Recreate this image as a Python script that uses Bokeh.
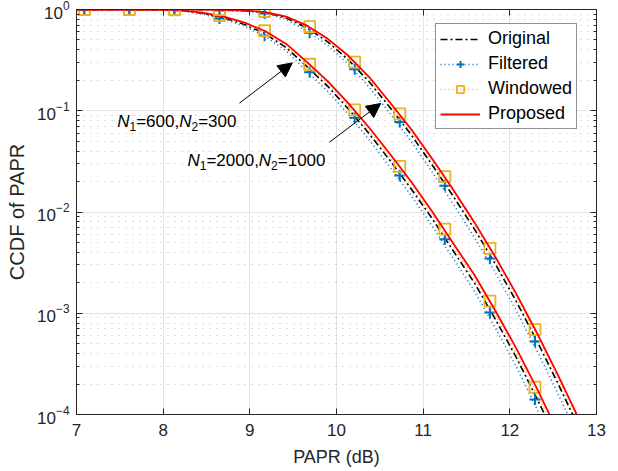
from bokeh.plotting import figure
from bokeh.models import (FixedTicker, LogTickFormatter, LinearAxis, LogAxis, Label,
                          Arrow, NormalHead, Legend, LegendItem, CustomJSTickFormatter)
from bokeh.embed import file_html
from bokeh.resources import INLINE

# ---------------- data ----------------
papr_db = [7.0, 7.25, 7.49, 7.73, 7.97, 8.21, 8.45, 8.70, 8.94, 9.18, 9.42, 9.66, 9.90,
           10.14, 10.38, 10.62, 10.86, 11.10, 11.34, 11.59, 11.83, 12.07, 12.31, 12.55, 12.79]

# N1=600, N2=300
g1_original = [1, 1, 1, 1, 0.993, 0.977, 0.918, 0.828, 0.711, 0.575, 0.420, 0.272, 0.174, 0.1035,
               0.0589, 0.0320, 0.0170, 0.00871, 0.00422, 0.00200, 8.81e-4, 3.72e-4, 1.45e-4, 5.5e-5]
g1_filtered = [1, 1, 1, 1, 0.991, 0.971, 0.902, 0.804, 0.684, 0.543, 0.389, 0.245, 0.155, 0.0912,
               0.0513, 0.0275, 0.0146, 0.00733, 0.00355, 0.00166, 7.24e-4, 3.02e-4, 1.15e-4, 4.4e-5]
g1_windowed = [1, 1, 1, 1, 0.995, 0.979, 0.925, 0.839, 0.724, 0.592, 0.437, 0.288, 0.184, 0.110,
               0.0631, 0.0347, 0.0184, 0.00944, 0.00457, 0.00219, 9.77e-4, 4.07e-4, 1.62e-4, 6.2e-5]
g1_proposed = [1, 1, 1, 1, 0.995, 0.982, 0.933, 0.851, 0.741, 0.610, 0.457, 0.302, 0.195, 0.1175,
               0.0676, 0.0372, 0.0200, 0.01023, 0.00501, 0.0024, 0.00107, 4.57e-4, 1.82e-4, 6.9e-5]

# N1=2000, N2=1000
g2_original = [1, 1, 1, 1, 1, 1, 0.998, 0.986, 0.973, 0.933, 0.826, 0.658, 0.479, 0.316, 0.192,
               0.107, 0.0582, 0.0295, 0.0146, 0.00681, 0.00309, 0.00133, 5.37e-4, 2.07e-4, 7.6e-5]
g2_filtered = [1, 1, 1, 1, 1, 1, 0.995, 0.984, 0.966, 0.920, 0.794, 0.617, 0.441, 0.286, 0.170,
               0.0933, 0.0501, 0.0251, 0.0123, 0.00562, 0.00255, 0.00108, 4.31e-4, 1.64e-4, 6.0e-5]
g2_windowed = [1, 1, 1, 1, 1, 1, 0.998, 0.991, 0.975, 0.940, 0.841, 0.678, 0.501, 0.335, 0.204,
               0.115, 0.0631, 0.0320, 0.0160, 0.00746, 0.00340, 0.00148, 6.03e-4, 2.32e-4, 8.6e-5]
g2_proposed = [1, 1, 1, 1, 1, 1, 0.998, 0.991, 0.977, 0.944, 0.851, 0.692, 0.513, 0.347, 0.214,
               0.120, 0.0661, 0.0339, 0.0170, 0.00794, 0.00363, 0.00158, 6.46e-4, 2.51e-4, 9.3e-5]

# marker positions
marker_db = [7.09, 7.61, 8.13, 8.65, 9.17, 9.69, 10.21, 10.73, 11.25, 11.77, 12.29]
g1_windowed_mk = [1.0, 1.0, 0.99, 0.871, 0.617, 0.288, 0.102, 0.0282, 0.00676, 0.00132, 1.86e-4]
g1_filtered_mk = [1.0, 1.0, 0.986, 0.813, 0.550, 0.240, 0.0851, 0.0229, 0.00537, 0.00102, 1.41e-4]
g2_windowed_mk = [1.0, 1.0, 1.0, 0.998, 0.955, 0.676, 0.302, 0.0933, 0.0224, 0.00437, 6.9e-4]
g2_filtered_mk = [1.0, 1.0, 1.0, 0.977, 0.912, 0.589, 0.257, 0.0776, 0.0182, 0.00347, 5.25e-4]

x_ticks = [7, 8, 9, 10, 11, 12, 13]
y_major = [1e-4, 1e-3, 1e-2, 1e-1, 1]
y_minor = [k * 10.0 ** e for e in (-4, -3, -2, -1) for k in range(2, 10)]

# annotation anchors (data coords)
ann1 = dict(x=7.47, y=0.079, tail=(8.88, 0.119), head=(9.49, 0.297))
ann2 = dict(x=8.28, y=0.0324, tail=(9.92, 0.049), head=(10.51, 0.118))

# ---------------- style ----------------
FONT = "Liberation Sans"
AX = "#262626"
C_ORIG, C_FILT, C_WIND, C_PROP = "#000000", "#0072BD", "#EDB120", "#FF0000"

p = figure(width=618, height=471, y_axis_type="log", x_range=(7, 13), y_range=(1e-4, 1),
           output_backend="svg", toolbar_location=None,
           min_border_left=76, min_border_right=22, min_border_top=9, min_border_bottom=57)
p.background_fill_color = "white"
p.border_fill_color = "white"
p.outline_line_color = AX
p.outline_line_width = 1

bottom_ax = p.below[0]
left_ax = p.left[0]

# extra axes on top / right (ticks only)
top_ax = LinearAxis(formatter=CustomJSTickFormatter(code="return ''"))
right_ax = LogAxis(formatter=CustomJSTickFormatter(code="return ''"))
p.add_layout(top_ax, "above")
p.add_layout(right_ax, "right")

for ax in (bottom_ax, top_ax):
    ax.ticker = FixedTicker(ticks=x_ticks)
    ax.minor_tick_line_color = None
for ax in (left_ax, right_ax):
    ax.ticker = FixedTicker(ticks=y_major, minor_ticks=y_minor)
    ax.minor_tick_line_color = AX
left_ax.formatter = LogTickFormatter()

for ax in (bottom_ax, top_ax, left_ax, right_ax):
    ax.axis_line_color = AX
    ax.major_tick_line_color = AX
    ax.major_tick_in = 6
    ax.major_tick_out = 0
    ax.minor_tick_in = 3
    ax.minor_tick_out = 0
    ax.major_label_text_font = FONT
    ax.major_label_text_color = AX
    ax.major_label_text_font_size = "17px"
    ax.axis_label_text_font = FONT
    ax.axis_label_text_font_style = "normal"
    ax.axis_label_text_color = AX
    ax.axis_label_text_font_size = "18px"
for ax in (top_ax, right_ax):
    ax.major_label_text_font_size = "0px"
    ax.major_label_standoff = 0

bottom_ax.axis_label = "PAPR (dB)"
left_ax.axis_label = "CCDF of PAPR"
left_ax.axis_label_text_font_size = "20px"
bottom_ax.major_label_standoff = 9
left_ax.major_label_standoff = 7
bottom_ax.axis_label_standoff = 8
left_ax.axis_label_standoff = 6

p.xgrid.grid_line_color = "#e3e3e3"
p.ygrid.grid_line_color = "#e3e3e3"
p.ygrid.minor_grid_line_color = "#bdbdbd"
p.ygrid.minor_grid_line_dash = "1 6"

# ---------------- curves ----------------
LW = 1.6
items = {"Original": [], "Filtered": [], "Windowed": [], "Proposed": []}
groups = [
    (g1_original, g1_filtered, g1_windowed, g1_proposed, g1_filtered_mk, g1_windowed_mk),
    (g2_original, g2_filtered, g2_windowed, g2_proposed, g2_filtered_mk, g2_windowed_mk),
]
for orig, filt, wind, prop, filt_mk, wind_mk in groups:
    r_o = p.line(papr_db[:len(orig)], orig, line_color=C_ORIG, line_width=LW, line_dash="7 3 2 3")
    r_f = p.line(papr_db[:len(filt)], filt, line_color=C_FILT, line_width=LW, line_dash="1 3")
    r_fm = p.scatter(marker_db, filt_mk, marker="cross", size=11, line_color=C_FILT, line_width=2)
    r_w = p.line(papr_db[:len(wind)], wind, line_color=C_WIND, line_width=LW, line_dash="1 3")
    r_wm = p.scatter(marker_db, wind_mk, marker="square", size=11, line_color=C_WIND,
                     fill_color=None, line_width=1.8)
    r_p = p.line(papr_db[:len(prop)], prop, line_color=C_PROP, line_width=1.8)
    items["Original"].append([r_o])
    items["Filtered"].append([r_f, r_fm])
    items["Windowed"].append([r_w, r_wm])
    items["Proposed"].append([r_p])

legend = Legend(items=[LegendItem(label=k, renderers=v[0]) for k, v in items.items()],
                location=(359, 285))
legend.label_text_font = FONT
legend.label_text_font_size = "18px"
legend.label_text_color = "black"
legend.border_line_color = AX
legend.border_line_width = 1
legend.background_fill_color = "white"
legend.background_fill_alpha = 1
legend.padding = 4
legend.spacing = 4
legend.glyph_height = 18
legend.label_height = 18
legend.glyph_width = 40
legend.label_standoff = 8
legend.margin = 0
p.add_layout(legend, "center")

# ---------------- annotations ----------------
W = {"N": 0.722, "=": 0.584, ",": 0.278}
for d in "0123456789":
    W[d] = 0.556
FS, FSUB = 17, 12


def rich_label(x, y, parts):
    off = 0.0
    for txt, kind in parts:
        fs = FSUB if kind == "sub" else FS
        p.add_layout(Label(x=x, y=y, x_offset=off, y_offset=-5 if kind == "sub" else 0,
                           text=txt, text_font=FONT, text_font_size=f"{fs}px",
                           text_font_style="italic" if kind == "it" else "normal",
                           text_color="black", text_baseline="alphabetic", text_align="left"))
        off += sum(W[c] for c in txt) * fs


rich_label(ann1["x"], ann1["y"], [("N", "it"), ("1", "sub"), ("=600,", "n"),
                                  ("N", "it"), ("2", "sub"), ("=300", "n")])
rich_label(ann2["x"], ann2["y"], [("N", "it"), ("1", "sub"), ("=2000,", "n"),
                                  ("N", "it"), ("2", "sub"), ("=1000", "n")])

for a in (ann1, ann2):
    p.add_layout(Arrow(end=NormalHead(size=14, fill_color="black", line_color="black", line_width=1),
                       x_start=a["tail"][0], y_start=a["tail"][1],
                       x_end=a["head"][0], y_end=a["head"][1],
                       line_color="black", line_width=1))

open("out.html", "w").write(file_html(p, INLINE))
